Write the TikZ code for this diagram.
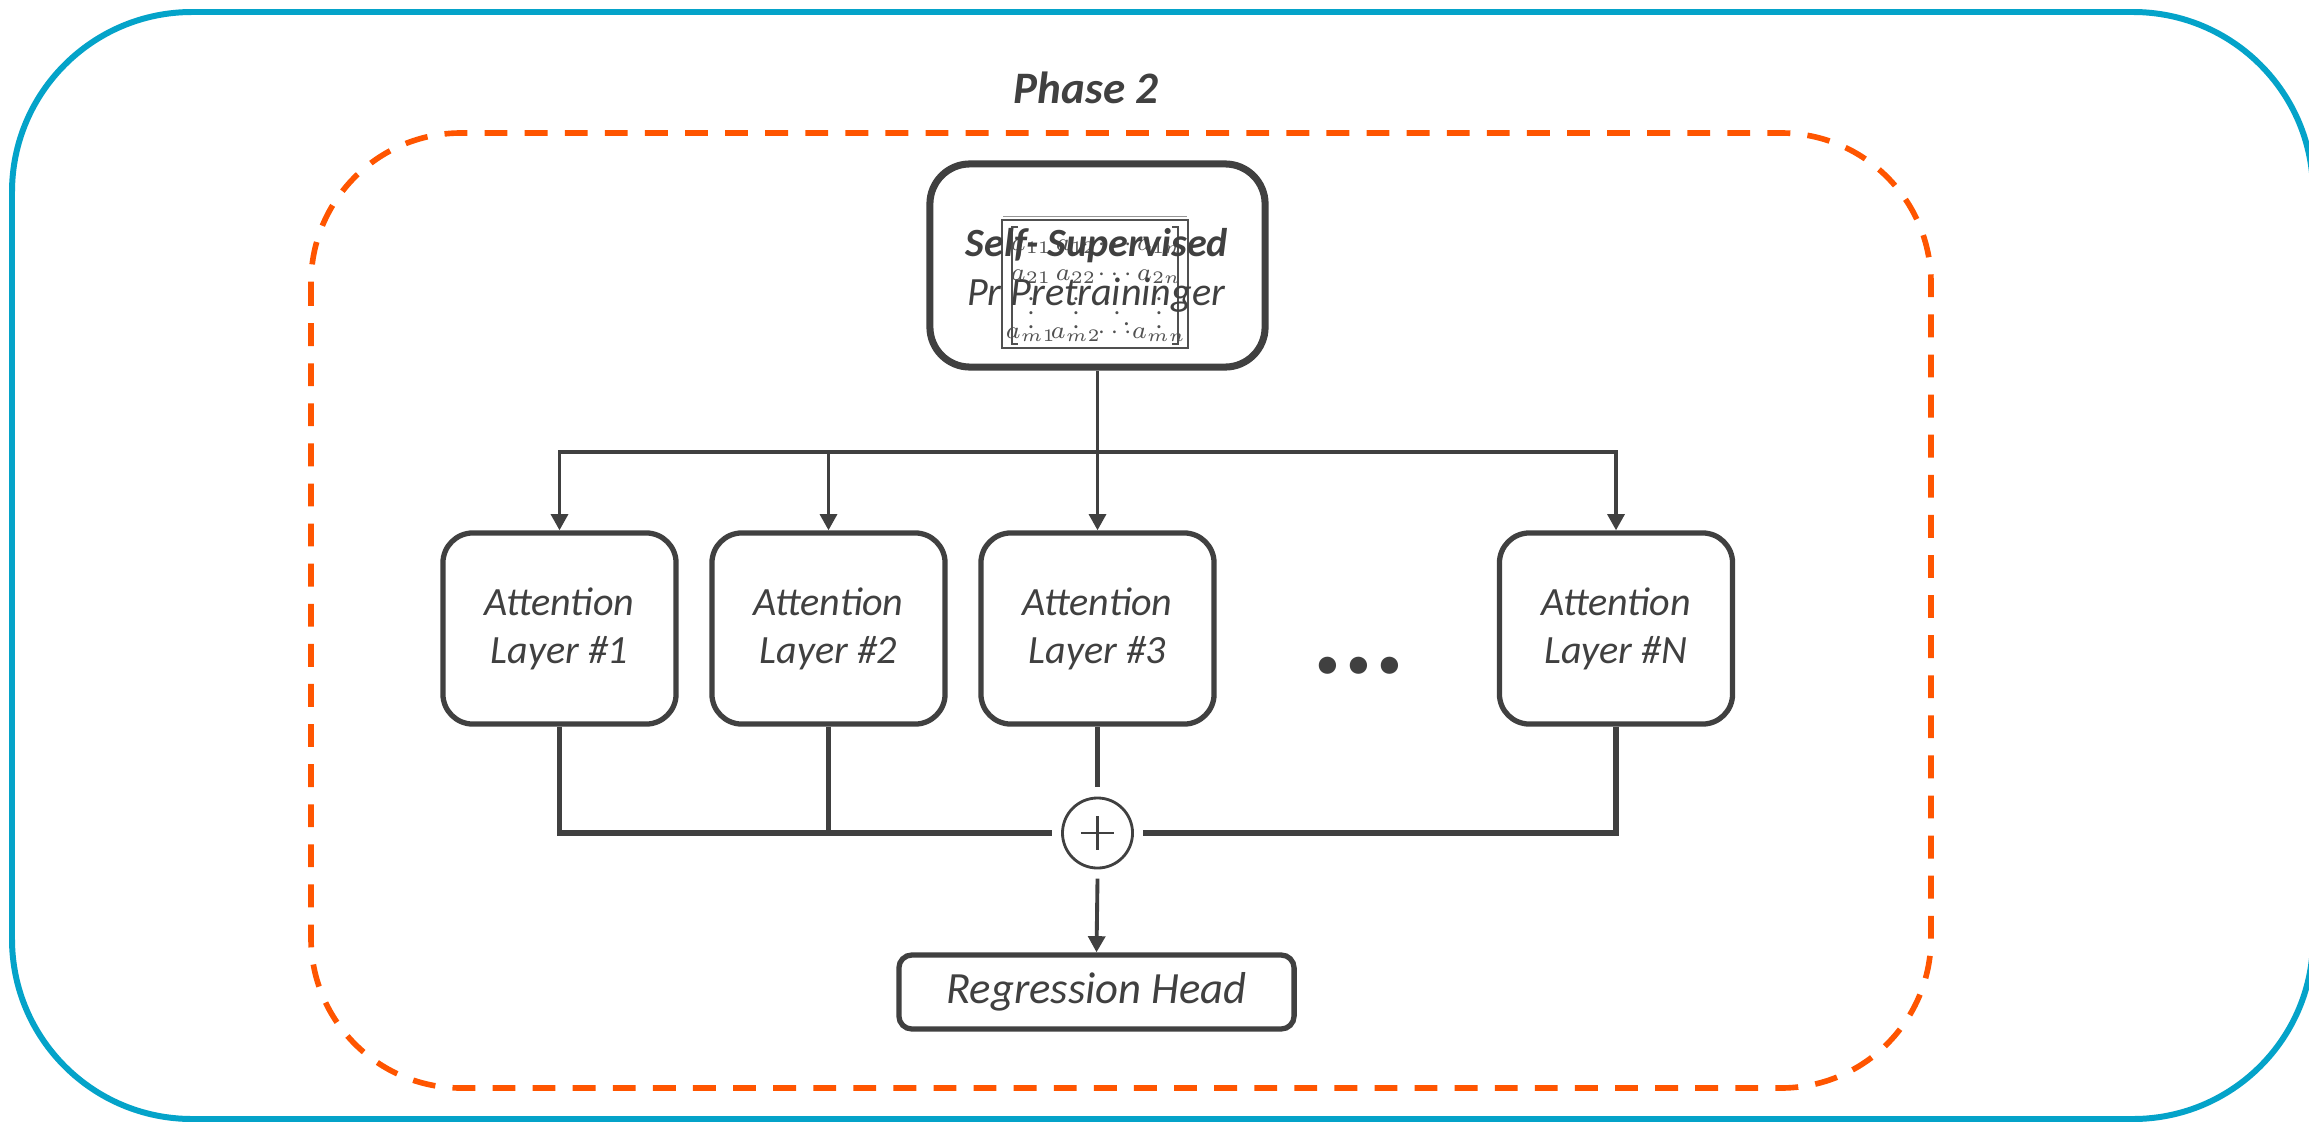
\documentclass[tikz,border=0pt]{standalone}
\usepackage{amsmath}
\usepackage{fontspec}
\setmainfont{Carlito}
\usetikzlibrary{arrows.meta}
\definecolor{ink}{HTML}{404040}
\definecolor{frameblue}{HTML}{04A3C9}
\definecolor{phaseorange}{HTML}{FF5500}
\definecolor{matgray}{HTML}{505050}
\begin{document}
\begin{tikzpicture}[x=0.01cm,y=-0.01cm,
  attn/.style={draw=ink, line width=1.5pt, rounded corners=0.3cm, fill=white,
    minimum width=2.33cm, minimum height=1.91cm, align=center, text=ink,
    font=\itshape\fontsize{11.4}{13.7}\selectfont},
  feed/.style={draw=ink, line width=1pt, -{Triangle[length=4.6pt,width=4.8pt]}},
  merge/.style={draw=ink, line width=1.45pt},
  entry/.style={text=matgray, inner sep=0pt, font=\fontsize{7.2}{8}\selectfont}]

\clip (0,0) rectangle (2309,1121);
\fill[white] (0,0) rectangle (2309,1121);

% outer frame and phase region
\draw[frameblue, line width=1.7pt, rounded corners=1.8cm] (12,12) rectangle (2313,1119);
\draw[phaseorange, line width=1.6pt, dash pattern=on 6.5pt off 4.9pt, rounded corners=1.5cm]
  (311,133) rectangle (1931,1088);
\node[text=ink, font=\bfseries\itshape\fontsize{12.8}{15}\selectfont] (phase) at (1086,88) {Phase 2};

% pretraining block with its matrix picture
\node[draw=ink, line width=2pt, rounded corners=0.4cm, fill=white,
  minimum width=3.35cm, minimum height=2.03cm] (ssp) at (1097.5,265.5) {};
\draw[matgray!60, line width=0.5pt] (1003,216.5) -- (1187,216.5);
\draw[matgray, line width=0.8pt] (1002,220) rectangle (1188,348);
\draw[matgray, line width=0.5pt] (1018,227) -- (1012,227) -- (1012,344) -- (1018,344);
\draw[matgray, line width=0.5pt] (1172,227) -- (1178,227) -- (1178,344) -- (1172,344);
\foreach \c/\x/\s in {1/1031/1, 2/1076/2, 4/1159/n} {
  \node[entry, anchor=base] (m1\c) at (\x,250) {$a_{1\s}$};
  \node[entry, anchor=base] (m2\c) at (\x,280) {$a_{2\s}$};
  \node[entry] (m3\c) at (\x,303) {$\vdots$};
  \node[entry, anchor=base] (m4\c) at (\x,338) {$a_{m\s}$};
}
\node[entry, anchor=base] (m13) at (1117,250) {$\cdots$};
\node[entry, anchor=base] (m23) at (1117,280) {$\cdots$};
\node[entry] (m33) at (1117,303) {$\ddots$};
\node[entry, anchor=base] (m43) at (1117,338) {$\cdots$};
\node[text=ink, anchor=base, font=\bfseries\itshape\fontsize{11.4}{13.7}\selectfont]
  (sspa) at (1097,256) {Self- Supervised};
\node[text=ink, anchor=base, font=\itshape\fontsize{11.4}{13.7}\selectfont]
  (sspb) at (1096,305) {Pr Pretraininger};

% attention layers
\node[attn] (att1) at (559.5,628.5) {Attention\\Layer \#1};
\node[attn] (att2) at (828.5,628.5) {Attention\\Layer \#2};
\node[attn] (att3) at (1097.5,628.5) {Attention\\Layer \#3};
\node[attn] (attN) at (1616,628.5) {Attention\\Layer \#N};
\node[text=ink, anchor=base, font=\bfseries\itshape\fontsize{33}{35}\selectfont]
  (dots) at (1361,673) {...};

% fan-out to the layers
\coordinate (bus) at (1097.5,452);
\draw[ink, line width=1pt] (ssp.south) -- (bus);
\draw[feed] (bus) -| (att1.north);
\draw[feed] (bus) -| (att2.north);
\draw[feed] (bus) -- (att3.north);
\draw[feed] (bus) -| (attN.north);

% summation and head
\node[circle, draw=ink, line width=0.8pt, minimum size=0.7cm, inner sep=0pt, outer sep=3pt,
  path picture={
    \draw[ink, line width=0.7pt] ([xshift=-4.7pt]path picture bounding box.center) -- ([xshift=4.7pt]path picture bounding box.center);
    \draw[ink, line width=0.7pt] ([yshift=-4.7pt]path picture bounding box.center) -- ([yshift=4.7pt]path picture bounding box.center);
  }] (sum) at (1097.5,833) {};
\node[draw=ink, line width=1.5pt, rounded corners=0.13cm, fill=white, text=ink,
  minimum width=3.95cm, minimum height=0.74cm, font=\itshape\fontsize{12.7}{14}\selectfont]
  (head) at (1096.5,992) {Regression Head};

\draw[merge] (att1.south) |- (sum.west);
\draw[merge] (att2.south) |- (sum.west);
\draw[merge] (att3.south) -- (sum.north);
\draw[merge] (attN.south) |- (sum.east);
\draw[feed, line width=1.1pt] (sum.south) -- (head.north);
\end{tikzpicture}
\end{document}
